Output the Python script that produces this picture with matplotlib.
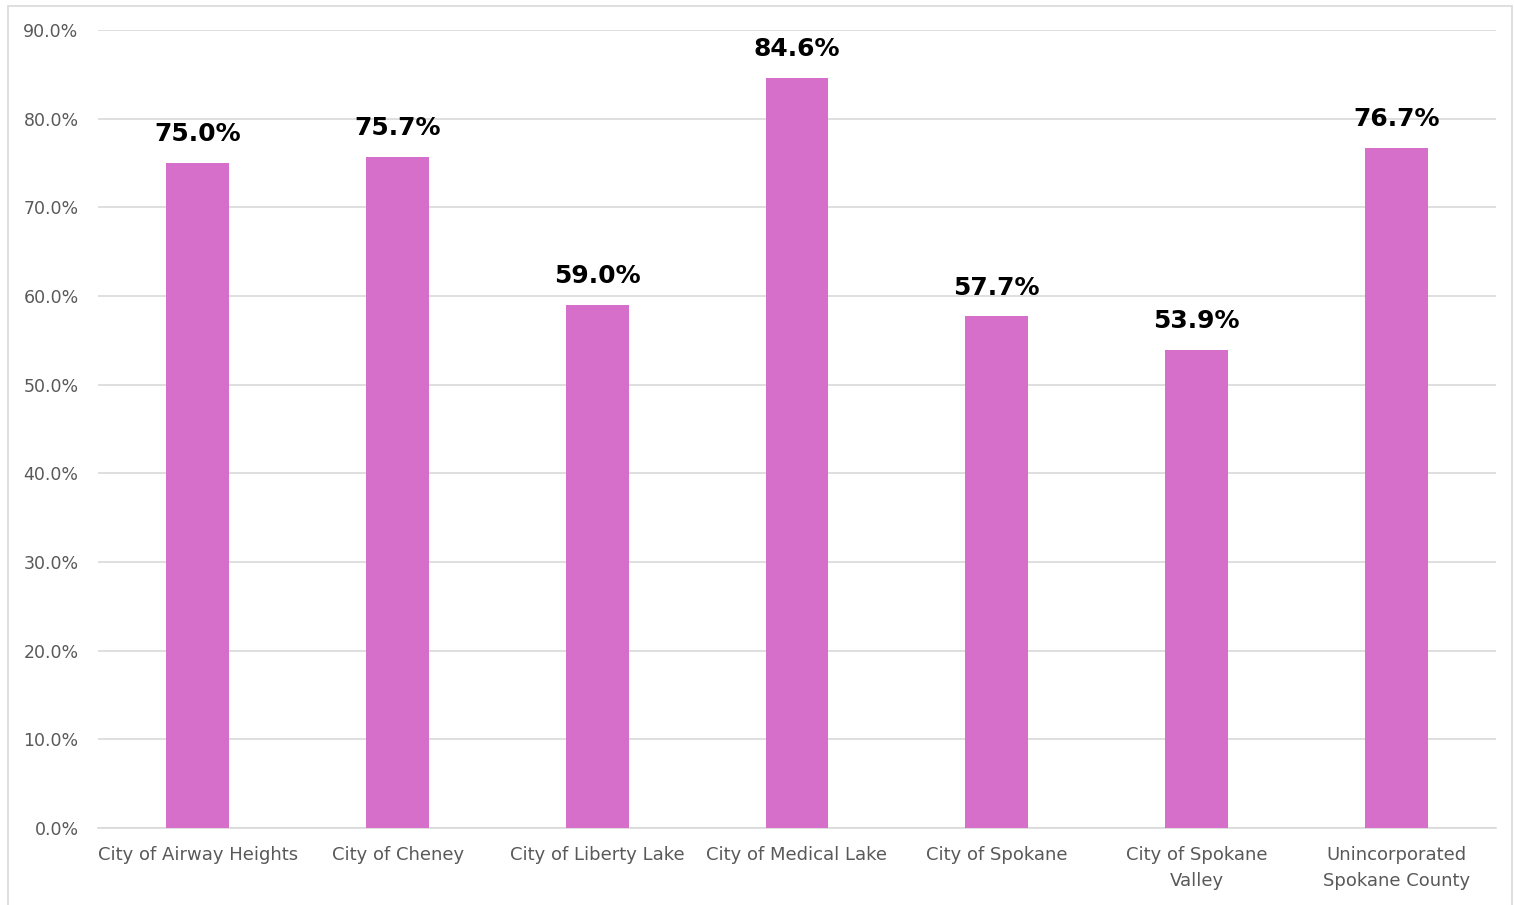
import matplotlib
matplotlib.use("Agg")
import matplotlib.pyplot as plt
from matplotlib.patches import Rectangle
from matplotlib.ticker import FuncFormatter, MultipleLocator

categories = ["City of Airway Heights", "City of Cheney", "City of Liberty Lake",
              "City of Medical Lake", "City of Spokane", "City of Spokane\nValley",
              "Unincorporated\nSpokane County"]
values = [75.0, 75.7, 59.0, 84.6, 57.7, 53.9, 76.7]

plt.rcParams['font.family'] = ['DejaVu Sans']

fig = plt.figure(figsize=(15.14, 9.05), dpi=100)
ax = fig.add_axes([98/1514, 1-828/905, (1496-98)/1514, (828-30)/905])

fig.patches.append(Rectangle((8/1514, -0.01), (1512-8)/1514, 1-6/905+0.01,
                             transform=fig.transFigure, fill=False,
                             edgecolor='#D9D9D9', linewidth=1.2))

x = list(range(len(categories)))
ax.bar(x, values, width=0.315, color='#D66FC9', zorder=3)
for xi, v in zip(x, values):
    ax.annotate(f"{v:.1f}%", (xi, v), xytext=(0, 12), textcoords='offset points',
                ha='center', va='bottom', fontsize=18, fontweight='bold', color='#000000')

ax.set_xlim(-0.5, len(categories) - 0.5)
ax.set_ylim(0, 90)
ax.yaxis.set_major_locator(MultipleLocator(10))
ax.yaxis.set_major_formatter(FuncFormatter(lambda v, p: f"{v:.1f}%"))
ax.grid(axis='y', color='#D9D9D9', linewidth=1.2, zorder=0)
ax.set_xticks(x)
ax.set_xticklabels(categories, fontsize=13, color='#595959', linespacing=1.6)
ax.tick_params(axis='y', labelsize=12.5, labelcolor='#595959', length=0, pad=14)
ax.tick_params(axis='x', length=0, pad=13)
for s in ['top', 'right', 'left']:
    ax.spines[s].set_visible(False)
ax.spines['bottom'].set_color('#D9D9D9')
ax.spines['bottom'].set_linewidth(1.2)

fig.savefig("out.png", dpi=100)
